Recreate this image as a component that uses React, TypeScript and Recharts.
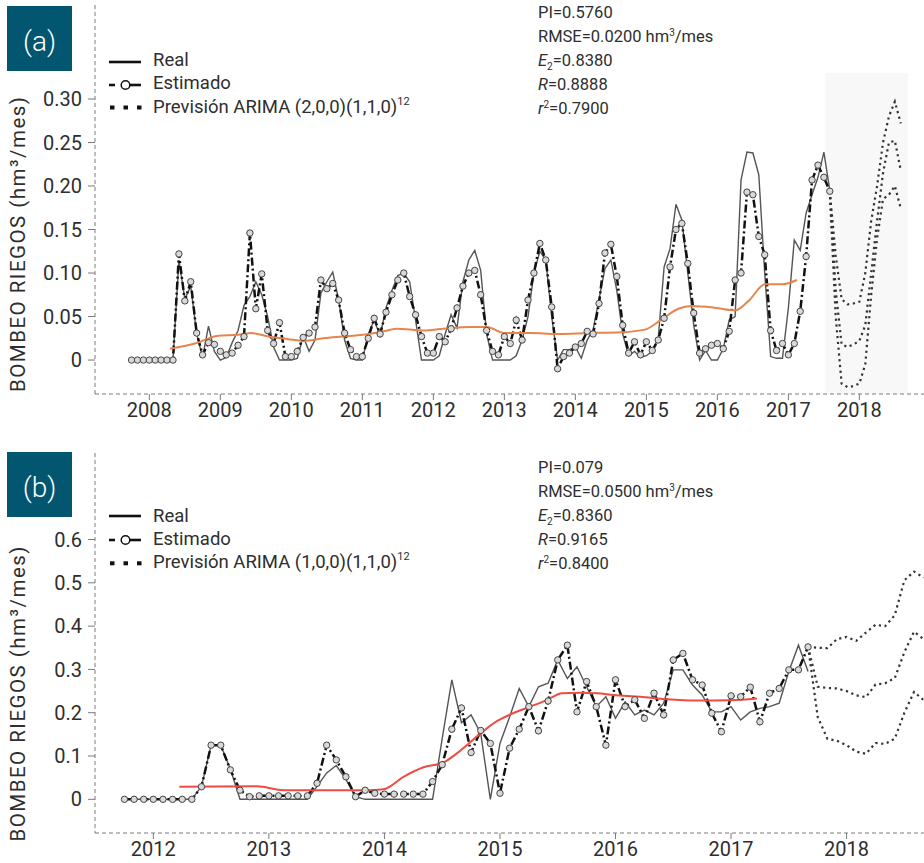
import React from 'react';
import { LineChart, Line, XAxis, YAxis, ReferenceArea } from 'recharts';

const FONT = 'Roboto, "Liberation Sans", Arial, sans-serif';

// ---------------- Panel (a) ----------------
const aStart = 2007.75; // Oct 2007, monthly values
const aEstimado = [
  0, 0, 0,
  0, 0, 0, 0, 0, 0.122, 0.068, 0.09, 0.031, 0.006, 0.02, 0.018,
  0.01, 0.006, 0.008, 0.017, 0.027, 0.146, 0.059, 0.099, 0.034, 0.019, 0.043, 0.004,
  0.004, 0.01, 0.026, 0.031, 0.038, 0.092, 0.082, 0.088, 0.069, 0.031, 0.012, 0.004,
  0.004, 0.025, 0.048, 0.03, 0.055, 0.075, 0.092, 0.1, 0.073, 0.052, 0.027, 0.008,
  0.008, 0.027, 0.021, 0.036, 0.06, 0.085, 0.1, 0.103, 0.075, 0.034, 0.01, 0.006,
  0.027, 0.019, 0.046, 0.023, 0.069, 0.1, 0.134, 0.115, 0.061, -0.01, 0.004, 0.008,
  0.015, 0.019, 0.033, 0.03, 0.065, 0.123, 0.133, 0.096, 0.04, 0.008, 0.021, 0.006,
  0.021, 0.011, 0.023, 0.048, 0.107, 0.15, 0.157, 0.111, 0.054, 0.008, 0.013, 0.017,
  0.019, 0.013, 0.033, 0.092, 0.1, 0.193, 0.19, 0.142, 0.121, 0.034, 0.011, 0.019,
  0.006, 0.019, 0.056, 0.119, 0.207, 0.224, 0.21, 0.194,
];
const aReal = [
  0, 0, 0,
  0, 0, 0, 0, 0, 0.115, 0.07, 0.085, 0.03, 0.003, 0.039, 0.01,
  0, 0.003, 0.02, 0.034, 0.063, 0.073, 0.09, 0.075, 0.05, 0.015, 0, 0,
  0, 0.002, 0.027, 0.01, 0.023, 0.077, 0.09, 0.101, 0.069, 0.023, 0.002, 0,
  0, 0.03, 0.046, 0.028, 0.06, 0.08, 0.097, 0.1, 0.09, 0.046, 0, 0,
  0, 0.005, 0.03, 0.052, 0.037, 0.09, 0.115, 0.126, 0.103, 0.03, 0, 0,
  0, 0, 0.005, 0.023, 0.05, 0.1, 0.125, 0.115, 0.05, 0, 0.012, 0.012,
  0.015, 0.002, 0.023, 0.035, 0.07, 0.105, 0.115, 0.08, 0.03, 0.005, 0.01, 0.003,
  0.005, 0.01, 0.025, 0.107, 0.128, 0.179, 0.161, 0.1, 0.04, 0, 0.011, 0,
  0, 0.013, 0.046, 0.05, 0.207, 0.239, 0.238, 0.213, 0.1, 0.004, 0.002, 0.002,
  0.06, 0.138, 0.126, 0.169, 0.19, 0.21, 0.239, 0.195,
];
const aMediaT = [2008.29, 2008.64, 2008.97, 2009.25, 2009.44, 2009.68, 2009.96, 2010.17, 2010.45, 2010.73, 2011.01, 2011.3, 2011.48, 2011.86, 2012.14, 2012.52, 2012.75, 2013.01, 2013.39, 2013.71, 2014.18, 2014.65, 2014.98, 2015.22, 2015.45, 2015.64, 2015.97, 2016.25, 2016.44, 2016.67, 2016.91, 2017.12];
const aMediaV = [0.013, 0.019, 0.028, 0.029, 0.031, 0.027, 0.024, 0.022, 0.025, 0.027, 0.029, 0.033, 0.036, 0.034, 0.036, 0.038, 0.038, 0.031, 0.031, 0.03, 0.031, 0.032, 0.035, 0.047, 0.059, 0.062, 0.06, 0.057, 0.068, 0.087, 0.087, 0.092];
const aPrevStart = 2017.583; // Aug 2017
const aPrevSup = [0.194, 0.12, 0.07, 0.064, 0.065, 0.067, 0.1, 0.16, 0.2, 0.25, 0.28, 0.297, 0.272];
const aPrevMed = [0.194, 0.08, 0.018, 0.015, 0.018, 0.022, 0.04, 0.1, 0.16, 0.215, 0.25, 0.252, 0.218];
const aPrevInf = [0.194, 0.05, -0.027, -0.031, -0.03, -0.027, -0.005, 0.075, 0.14, 0.185, 0.19, 0.2, 0.174];
const aXTicks = [2008, 2009, 2010, 2011, 2012, 2013, 2014, 2015, 2016, 2017, 2018];
const aYTicks = [0, 0.05, 0.1, 0.15, 0.2, 0.25, 0.3];
const aModel = 'Previsión ARIMA (2,0,0)(1,1,0)';
const aStats = { pi: '0.5760', rmse: '0.0200', e2: '0.8380', r: '0.8888', r2: '0.7900' };

// ---------------- Panel (b) ----------------
const bStart = 2011.75; // Oct 2011, monthly values
const bEstimado = [
  0, 0, 0,
  0, 0, 0, 0, 0, 0.029, 0.125, 0.125, 0.068, 0.021, 0.006, 0.008,
  0.008, 0.008, 0.008, 0.008, 0.008, 0.037, 0.125, 0.091, 0.052, 0.006, 0.021, 0.014,
  0.012, 0.012, 0.012, 0.012, 0.012, 0.041, 0.08, 0.162, 0.211, 0.108, 0.159, 0.129,
  0.014, 0.118, 0.162, 0.214, 0.158, 0.227, 0.322, 0.356, 0.202, 0.272, 0.214, 0.125,
  0.276, 0.214, 0.23, 0.187, 0.245, 0.195, 0.322, 0.337, 0.276, 0.264, 0.199, 0.156,
  0.239, 0.237, 0.259, 0.179, 0.245, 0.256, 0.299, 0.299, 0.352,
];
const bReal = [
  0, 0, 0,
  0, 0, 0, 0, 0, 0.03, 0.125, 0.125, 0.07, 0, 0, 0,
  0, 0, 0, 0, 0, 0.03, 0.061, 0.078, 0.046, 0.006, 0, 0,
  0, 0, 0, 0, 0, 0, 0.14, 0.276, 0.177, 0.195, 0.152, 0,
  0.129, 0.19, 0.256, 0.214, 0.26, 0.268, 0.322, 0.279, 0.306, 0.26, 0.214, 0.237,
  0.187, 0.225, 0.195, 0.206, 0.195, 0.222, 0.299, 0.299, 0.264, 0.241, 0.202, 0.202,
  0.214, 0.183, 0.202, 0.21, 0.214, 0.222, 0.295, 0.356, 0.295,
];
const bMediaT = [2012.225, 2012.895, 2013.126, 2013.848, 2013.991, 2014.165, 2014.338, 2014.511, 2014.627, 2014.8, 2014.97, 2015.09, 2015.261, 2015.406, 2015.536, 2015.694, 2015.839, 2015.983, 2016.214, 2016.445, 2016.705, 2016.993, 2017.224];
const bMediaV = [0.029, 0.03, 0.021, 0.021, 0.023, 0.052, 0.074, 0.085, 0.106, 0.145, 0.18, 0.196, 0.214, 0.229, 0.245, 0.246, 0.245, 0.241, 0.237, 0.231, 0.228, 0.229, 0.233];
const bPrevStart = 2017.667; // Sep 2017
const bPrevSup = [0.352, 0.35, 0.349, 0.37, 0.375, 0.366, 0.385, 0.403, 0.4, 0.425, 0.506, 0.526, 0.512];
const bPrevMed = [0.352, 0.26, 0.257, 0.256, 0.25, 0.24, 0.236, 0.265, 0.268, 0.28, 0.34, 0.387, 0.37];
const bPrevInf = [0.352, 0.19, 0.14, 0.135, 0.125, 0.11, 0.105, 0.13, 0.128, 0.14, 0.2, 0.248, 0.229];
const bXTicks = [2012, 2013, 2014, 2015, 2016, 2017, 2018];
const bYTicks = [0, 0.1, 0.2, 0.3, 0.4, 0.5, 0.6];
const bModel = 'Previsión ARIMA (1,0,0)(1,1,0)';
const bStats = { pi: '0.079', rmse: '0.0500', e2: '0.8360', r: '0.9165', r2: '0.8400' };

const yLabel = 'BOMBEO RIEGOS (hm³/mes)';

// ---------------- helpers ----------------
const monthly = (start: number, vals: number[]) => vals.map((v, i) => ({ t: start + i / 12, v }));
const pairs = (ts: number[], vs: number[]) => ts.map((t, i) => ({ t, v: vs[i] }));

const EstDot = (props: any) => {
  const { cx, cy, index } = props;
  if (cx == null || cy == null) return <g key={`e${index}`} />;
  return <circle key={`e${index}`} cx={cx} cy={cy} r={3.2} fill="#d9d9d9" stroke="#444" strokeWidth={1} />;
};

const AXIS = '#7a7a7a';
const TXT = '#2e2e2e';

function Panel(p: any) {
  return (
    <div style={{ position: 'absolute', left: 0, top: p.top, width: 924, height: p.height }}>
      <LineChart width={924} height={p.height} margin={p.margin}>
        <XAxis
          type="number" dataKey="t" domain={p.xDomain} ticks={p.xTicks} interval={0} allowDataOverflow
          height={30} axisLine={{ stroke: AXIS, strokeDasharray: '4 3' }} tickLine={{ stroke: AXIS }}
          tickSize={6} tickMargin={3} tick={{ fill: TXT, fontSize: 20, fontFamily: FONT }}
        />
        <YAxis
          type="number" domain={p.yDomain} ticks={p.yTicks} interval={0} allowDataOverflow width={95}
          axisLine={{ stroke: AXIS, strokeDasharray: '4 3' }} tickLine={{ stroke: AXIS }}
          tickSize={7} tickMargin={6} tick={{ fill: TXT, fontSize: 20, fontFamily: FONT }}
          tickFormatter={p.yFmt}
        />
        {p.shade ? (
          <ReferenceArea x1={p.shade[0]} x2={p.shade[1]} y1={p.shade[2]} y2={p.shade[3]} fill="#f8f8f8" fillOpacity={1} stroke="none" ifOverflow="hidden" />
        ) : null}
        <Line data={p.real} dataKey="v" type="linear" stroke="#555" strokeWidth={1.4} dot={false} isAnimationActive={false} />
        {p.fc.map((d: any, i: number) => (
          <Line key={`fc${i}`} data={d} dataKey="v" type="linear" stroke="#333" strokeWidth={2.2} strokeDasharray="2.2 3.6" dot={false} isAnimationActive={false} />
        ))}
        <Line data={p.est} dataKey="v" type="linear" stroke="#111" strokeWidth={2.5} strokeDasharray="8 3 2 3" dot={EstDot} isAnimationActive={false} />
        <Line data={p.media} dataKey="v" type="monotone" stroke={p.mediaColor} strokeWidth={2} dot={false} isAnimationActive={false} />
      </LineChart>
    </div>
  );
}

function Legend({ yReal, yEst, yPrev, bReal, bEst, bPrev, model }: any) {
  return (
    <g>
      <line x1={109} x2={141} y1={yReal} y2={yReal} stroke="#111" strokeWidth={2.6} />
      <text x={153} y={bReal} fontSize={18.5} fill={TXT}>Real</text>
      <line x1={109} x2={115} y1={yEst} y2={yEst} stroke="#111" strokeWidth={2.6} />
      <circle cx={125.5} cy={yEst} r={4.3} fill="#fff" stroke="#111" strokeWidth={1.5} />
      <line x1={130} x2={141} y1={yEst} y2={yEst} stroke="#111" strokeWidth={2.6} />
      <text x={153} y={bEst} fontSize={18.5} fill={TXT}>Estimado</text>
      {[110, 123.5, 137].map((x) => (
        <rect key={x} x={x} y={yPrev - 2} width={4.5} height={4} fill="#111" />
      ))}
      <text x={153} y={bPrev} fontSize={18.5} fill={TXT}>
        {model}
        <tspan fontSize={11} dy={-8}>12</tspan>
      </text>
    </g>
  );
}

function Stats({ x, base, s }: any) {
  const fs = 16.5;
  const dy = 23.8;
  return (
    <g fontSize={fs} fill={TXT}>
      <text x={x} y={base}>PI={s.pi}</text>
      <text x={x} y={base + dy}>RMSE={s.rmse} hm<tspan fontSize={10} dy={-6}>3</tspan><tspan dy={6}>/mes</tspan></text>
      <text x={x} y={base + 2 * dy}><tspan fontStyle="italic">E</tspan><tspan fontSize={10} dy={4}>2</tspan><tspan dy={-4}>={s.e2}</tspan></text>
      <text x={x} y={base + 3 * dy}><tspan fontStyle="italic">R</tspan>={s.r}</text>
      <text x={x} y={base + 4 * dy}><tspan fontStyle="italic">r</tspan><tspan fontSize={10} dy={-6}>2</tspan><tspan dy={6}>={s.r2}</tspan></text>
    </g>
  );
}

function Badge({ y, label }: any) {
  return (
    <g>
      <rect x={7} y={y} width={65} height={65} fill="#02566f" />
      <text x={39.5} y={y + 45} fontSize={28} fontWeight={300} fill="#fff" textAnchor="middle">{label}</text>
    </g>
  );
}

function YLab({ cy }: any) {
  return (
    <text transform={`translate(25,${cy}) rotate(-90)`} textAnchor="middle" fontSize={20.5} fill={TXT} textLength={295} lengthAdjust="spacing">
      {yLabel}
    </text>
  );
}

export default function App() {
  const aFmt = (v: number) => (v === 0 ? '0' : v.toFixed(2));
  const bFmt = (v: number) => (v === 0 ? '0' : v.toFixed(1));
  return (
    <div style={{ position: 'absolute', left: 0, top: 0, width: 924, height: 863, overflow: 'hidden', background: '#fff', fontFamily: FONT }}>
      <Panel
        top={0} height={430} margin={{ top: 5, right: 0, bottom: 6, left: 0 }}
        xDomain={[2007.235, 2018.91]} yDomain={[-0.039, 0.408]} xTicks={aXTicks} yTicks={aYTicks} yFmt={aFmt}
        real={monthly(aStart, aReal)} est={monthly(aStart, aEstimado)} media={pairs(aMediaT, aMediaV)} mediaColor="#e8844c"
        fc={[monthly(aPrevStart, aPrevSup), monthly(aPrevStart, aPrevMed), monthly(aPrevStart, aPrevInf)]}
        shade={[2017.52, 2018.68, -0.039, 0.33]}
      />
      <Panel
        top={440} height={430} margin={{ top: 13, right: 0, bottom: 7, left: 0 }}
        xDomain={[2011.495, 2018.67]} yDomain={[-0.0778, 0.7998]} xTicks={bXTicks} yTicks={bYTicks} yFmt={bFmt}
        real={monthly(bStart, bReal)} est={monthly(bStart, bEstimado)} media={pairs(bMediaT, bMediaV)} mediaColor="#ef4b43"
        fc={[monthly(bPrevStart, bPrevSup), monthly(bPrevStart, bPrevMed), monthly(bPrevStart, bPrevInf)]}
      />
      <svg width={924} height={863} style={{ position: 'absolute', left: 0, top: 0, pointerEvents: 'none', fontFamily: FONT }}>
        <Badge y={6} label="(a)" />
        <Badge y={452} label="(b)" />
        <Legend yReal={62} yEst={85} yPrev={107.5} bReal={66} bEst={89.3} bPrev={112.7} model={aModel} />
        <Legend yReal={516} yEst={540} yPrev={563.3} bReal={521.7} bEst={545} bPrev={568.3} model={bModel} />
        <Stats x={538} base={18.3} s={aStats} />
        <Stats x={538} base={473.3} s={bStats} />
        <YLab cy={244.5} />
        <YLab cy={694} />
      </svg>
    </div>
  );
}
